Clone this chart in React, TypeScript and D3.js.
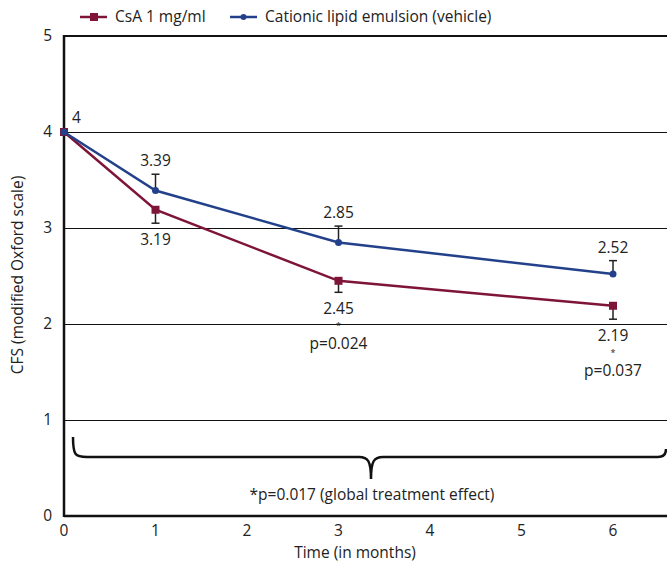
import React, { useEffect, useRef } from 'react'
import * as d3 from 'd3'

const months = [0, 1, 3, 6]
const csaValues = [4, 3.19, 2.45, 2.19]
const vehicleValues = [4, 3.39, 2.85, 2.52]
const csaErr = [0, 0.14, 0.12, 0.14]
const vehicleErr = [0, 0.17, 0.17, 0.14]
const csaLabels = ['', '3.19', '2.45', '2.19']
const vehicleLabels = ['4', '3.39', '2.85', '2.52']
const pLabels = ['', '', 'p=0.024', 'p=0.037']
const xTicks = [0, 1, 2, 3, 4, 5, 6]
const yTicks = [0, 1, 2, 3, 4, 5]

const RED = '#7e1438'
const BLUE = '#23418a'
const FONT = '"Open Sans", "Noto Sans", sans-serif'
const FS = '15.5px'

export default function App() {
    const ref = useRef<SVGSVGElement>(null)

    useEffect(() => {
        const left = 64, right = 667, top = 36, bottom = 516
        const svg = d3.select(ref.current)
        svg.selectAll('*').remove()

        const x = d3.scaleLinear().domain([0, 6]).range([left, 613])
        const y = d3.scaleLinear().domain([0, 5]).range([bottom, top])

        // grid lines
        svg.append('g')
            .selectAll('line')
            .data(yTicks.filter(d => d > 0 && d < 5))
            .enter()
            .append('line')
            .attr('x1', left).attr('x2', right)
            .attr('y1', d => Math.round(y(d)) + 0.5).attr('y2', d => Math.round(y(d)) + 0.5)
            .attr('stroke', '#111').attr('stroke-width', 1)

        // frame: top, left, bottom
        svg.append('line').attr('x1', left).attr('x2', right).attr('y1', y(5)).attr('y2', y(5))
            .attr('stroke', '#111').attr('stroke-width', 2)
        svg.append('line').attr('x1', left).attr('x2', right).attr('y1', bottom).attr('y2', bottom)
            .attr('stroke', '#111').attr('stroke-width', 2.5)
        svg.append('line').attr('x1', left).attr('x2', left).attr('y1', top - 1).attr('y2', bottom + 1)
            .attr('stroke', '#111').attr('stroke-width', 2.5)

        const txt = (sel: any) => sel.style('font-size', FS).style('font-family', FONT).attr('fill', '#222')

        // tick labels
        svg.append('g').selectAll('text').data(yTicks).enter().append('text')
            .attr('x', left - 12).attr('y', d => y(d) + 5)
            .attr('text-anchor', 'end')
            .call(txt)
            .text(d => d)
        svg.append('g').selectAll('text').data(xTicks).enter().append('text')
            .attr('x', d => x(d)).attr('y', bottom + 20)
            .attr('text-anchor', 'middle')
            .call(txt)
            .text(d => d)

        svg.append('text')
            .attr('x', 355).attr('y', 558)
            .attr('text-anchor', 'middle')
            .call(txt)
            .text('Time (in months)')
        svg.append('text')
            .attr('transform', 'translate(23,' + 275 + ') rotate(-90)')
            .attr('text-anchor', 'middle')
            .call(txt)
            .text('CFS (modified Oxford scale)')

        // brace
        const bx0 = 73, bx1 = 666, by = 457, bmid = 371
        const brace = `M${bx0},${by - 20} C${bx0},${by - 2} ${bx0 + 2},${by} ${bx0 + 14},${by}
            L${bmid - 12},${by} C${bmid - 3},${by} ${bmid},${by + 4} ${bmid},${by + 22}
            C${bmid},${by + 4} ${bmid + 3},${by} ${bmid + 12},${by}
            L${bx1 - 8},${by} C${bx1 - 2},${by} ${bx1},${by - 3} ${bx1},${by - 8}`
        svg.append('path').attr('d', brace).attr('fill', 'none')
            .attr('stroke', '#111').attr('stroke-width', 2.5)
        svg.append('text')
            .attr('x', 372).attr('y', 500)
            .attr('text-anchor', 'middle')
            .call(txt)
            .text('*p=0.017 (global treatment effect)')

        const line = d3.line<number>()
            .x((d, i) => x(months[i]))
            .y(d => y(d))

        // error bars
        const errBar = (vals: number[], errs: number[], dir: number) => {
            const g = svg.append('g')
            vals.forEach((v, i) => {
                if (!errs[i]) return
                const yEnd = y(v + dir * errs[i])
                g.append('line').attr('x1', x(months[i])).attr('x2', x(months[i]))
                    .attr('y1', y(v)).attr('y2', yEnd).attr('stroke', '#222').attr('stroke-width', 1.5)
                g.append('line').attr('x1', x(months[i]) - 4).attr('x2', x(months[i]) + 4)
                    .attr('y1', yEnd).attr('y2', yEnd).attr('stroke', '#222').attr('stroke-width', 1.5)
            })
        }
        errBar(vehicleValues, vehicleErr, 1)
        errBar(csaValues, csaErr, -1)

        svg.append('path').datum(csaValues).attr('d', line)
            .attr('fill', 'none').attr('stroke', RED).attr('stroke-width', 2.5)
        svg.append('path').datum(vehicleValues).attr('d', line)
            .attr('fill', 'none').attr('stroke', BLUE).attr('stroke-width', 2.5)

        svg.append('g').selectAll('rect').data(csaValues).enter().append('rect')
            .attr('x', (d, i) => x(months[i]) - 4).attr('y', d => y(d) - 4)
            .attr('width', 8).attr('height', 8).attr('fill', RED)
        svg.append('g').selectAll('circle').data(vehicleValues).enter().append('circle')
            .attr('cx', (d, i) => x(months[i])).attr('cy', d => y(d))
            .attr('r', 3.5).attr('fill', BLUE)

        // value labels
        vehicleLabels.forEach((t, i) => {
            if (i === 0) {
                svg.append('text').attr('x', x(0) + 8).attr('y', y(vehicleValues[0]) - 9)
                    .call(txt).text(t)
            } else {
                svg.append('text').attr('x', x(months[i])).attr('y', y(vehicleValues[i] + vehicleErr[i]) - 8)
                    .attr('text-anchor', 'middle').call(txt).text(t)
            }
        })
        csaLabels.forEach((t, i) => {
            if (!t) return
            const cx = x(months[i])
            const base = y(csaValues[i] - csaErr[i]) + 22
            const el = svg.append('text').attr('x', cx).attr('y', base)
                .attr('text-anchor', 'middle').call(txt)
            el.append('tspan').attr('x', cx).attr('y', base).text(t)
            if (pLabels[i]) {
                // asterisk + p value as extra lines of the same label
                el.append('tspan').attr('x', cx).attr('y', base + 15).style('font-size', '9px').text('*')
                el.append('tspan').attr('x', cx).attr('y', base + 35).text(pLabels[i])
            }
        })

        // legend
        const legend = [
            { name: 'CsA 1 mg/ml', color: RED, shape: 'rect', x0: 80 },
            { name: 'Cationic lipid emulsion (vehicle)', color: BLUE, shape: 'circle', x0: 230 },
        ]
        legend.forEach(l => {
            const g = svg.append('g')
            g.append('line').attr('x1', l.x0).attr('x2', l.x0 + 27).attr('y1', 17).attr('y2', 17)
                .attr('stroke', l.color).attr('stroke-width', 2.5)
            if (l.shape === 'rect') {
                g.append('rect').attr('x', l.x0 + 10).attr('y', 13).attr('width', 8).attr('height', 8).attr('fill', l.color)
            } else {
                g.append('circle').attr('cx', l.x0 + 13.5).attr('cy', 17).attr('r', 3).attr('fill', l.color)
            }
            g.append('text').attr('x', l.x0 + 35).attr('y', 22)
                .call(txt)
                .text(l.name)
        })
    }, [])

    return (
        <svg ref={ref} width={667} height={563} style={{ display: 'block', position: 'absolute', left: 0, top: 0, background: '#fff' }} />
    )
}
